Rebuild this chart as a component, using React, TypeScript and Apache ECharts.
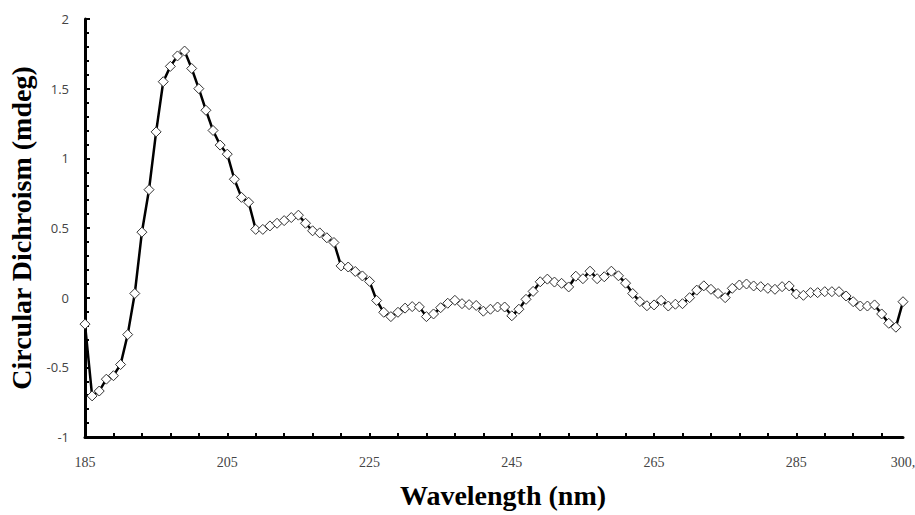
import React, { useEffect, useRef } from "react";
import * as echarts from "echarts";

const wavelengths: string[] = [];
for (let w = 185; w <= 300; w++) wavelengths.push(String(w));

// Circular dichroism values (mdeg), one per nm from 185 to 300
const cd185to209 = [
  -0.19, -0.705, -0.67, -0.585, -0.56, -0.48, -0.265, 0.03, 0.47, 0.775,
  1.19, 1.55, 1.66, 1.735, 1.77, 1.645, 1.5, 1.345, 1.2, 1.095,
  1.03, 0.85, 0.72, 0.685, 0.49,
];
const cd210to234 = [
  0.49, 0.515, 0.534, 0.553, 0.575, 0.592, 0.534, 0.48, 0.465, 0.43,
  0.396, 0.228, 0.22, 0.188, 0.156, 0.117, -0.02, -0.105, -0.136, -0.105,
  -0.075, -0.064, -0.066, -0.136, -0.117,
];
const cd235to259 = [
  -0.072, -0.04, -0.019, -0.043, -0.05, -0.056, -0.097, -0.083, -0.067, -0.067,
  -0.13, -0.083, -0.012, 0.045, 0.114, 0.133, 0.112, 0.103, 0.077, 0.154,
  0.136, 0.19, 0.136, 0.15, 0.19,
];
const cd260to284 = [
  0.157, 0.104, 0.03, -0.028, -0.058, -0.052, -0.019, -0.06, -0.047, -0.043,
  0.0, 0.054, 0.085, 0.06, 0.03, 0.0, 0.067, 0.091, 0.098, 0.084,
  0.079, 0.067, 0.06, 0.079, 0.084,
];
const cd285to300 = [
  0.026, 0.017, 0.036, 0.036, 0.043, 0.043, 0.043, 0.012, -0.029, -0.06,
  -0.06, -0.052, -0.117, -0.184, -0.212, -0.029,
];
const cdValues = [...cd185to209, ...cd210to234, ...cd235to259, ...cd260to284, ...cd285to300];

const xLabelShown = ["185", "205", "225", "245", "265", "285", "300"];

export default function App() {
  const ref = useRef<HTMLDivElement>(null);
  useEffect(() => {
    if (!ref.current) return;
    const chart = echarts.init(ref.current, null, { renderer: "svg" });
    chart.setOption({
      animation: false,
      backgroundColor: "#fff",
      grid: {
        left: 85,
        right: 12,
        top: 19,
        bottom: 78,
        containLabel: false,
        outerBoundsMode: "none",
      },
      xAxis: {
        type: "category",
        data: wavelengths,
        boundaryGap: false,
        name: "Wavelength (nm)",
        nameLocation: "middle",
        nameGap: 44,
        nameTextStyle: {
          fontFamily: "Liberation Serif",
          fontWeight: "bold",
          fontSize: 28,
          color: "#000",
          padding: [0, 0, 0, 18],
        },
        axisLine: { show: true, onZero: false, lineStyle: { color: "#000", width: 3 } },
        axisTick: {
          show: true,
          inside: true,
          length: 4,
          interval: (i: number) => i % 4 === 0,
          lineStyle: { color: "#000", width: 2 },
        },
        axisLabel: {
          interval: (_i: number, v: string) => xLabelShown.indexOf(v) >= 0,
          formatter: (v: string) => (v === "300" ? "300," : v),
          margin: 18,
          fontFamily: "Liberation Serif",
          fontSize: 14,
          color: "#444",
        },
        splitLine: { show: false },
      },
      yAxis: {
        type: "value",
        min: -1,
        max: 2,
        interval: 0.5,
        name: "Circular Dichroism (mdeg)",
        nameLocation: "middle",
        nameGap: 50,
        nameTextStyle: {
          fontFamily: "Liberation Serif",
          fontWeight: "bold",
          fontSize: 28,
          color: "#000",
        },
        axisLine: { show: true, lineStyle: { color: "#000", width: 3 } },
        axisTick: {
          show: true,
          inside: true,
          length: 5,
          lineStyle: { color: "#000", width: 2 },
        },
        minorTick: {
          show: true,
          splitNumber: 5,
          length: 4,
          lineStyle: { color: "#000", width: 2 },
        },
        axisLabel: {
          margin: 16,
          fontFamily: "Open Sans",
          fontSize: 13,
          color: "#444",
        },
        splitLine: { show: false },
      },
      series: [
        {
          type: "line",
          data: cdValues,
          symbol: "diamond",
          symbolSize: 10,
          showAllSymbol: true,
          lineStyle: { color: "#000", width: 2.5 },
          itemStyle: { color: "#fff", borderColor: "#333", borderWidth: 1 },
        },
      ],
    });
    return () => chart.dispose();
  }, []);
  return (
    <div
      ref={ref}
      style={{ position: "fixed", left: 0, top: 0, width: 915, height: 515 }}
    />
  );
}
